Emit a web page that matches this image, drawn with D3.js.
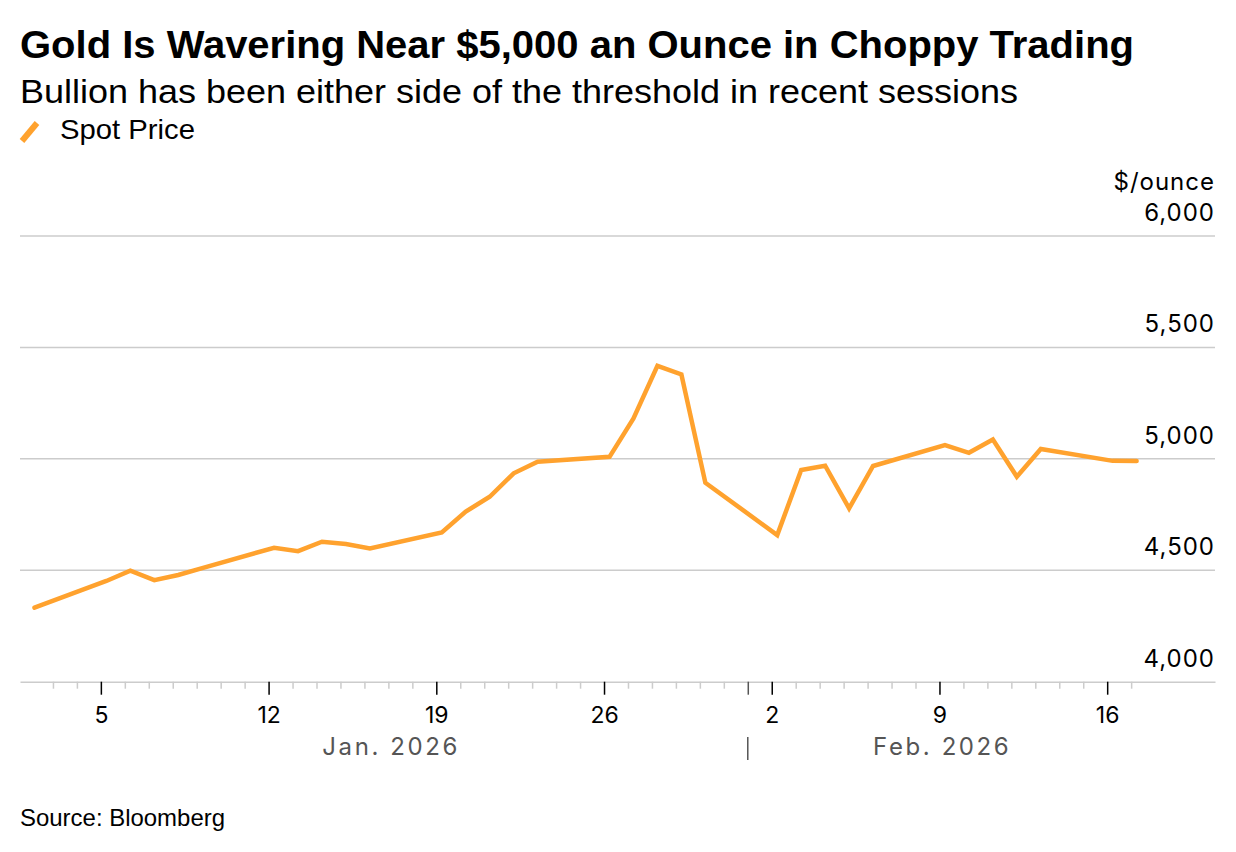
<!DOCTYPE html>
<html>
<head>
<meta charset="utf-8">
<script src="https://cdn.jsdelivr.net/npm/d3@7"></script>
<style>
  body { margin: 0; background: #fff; }
  text { font-family: "Liberation Sans", Arial, sans-serif; }
  .ax text { font-family: Inter, "Liberation Sans", sans-serif; }
</style>
</head>
<body>
<div id="chart"></div>
<script>
// trading days and spot price ($/ounce)
var days = ["2026-01-02","2026-01-05","2026-01-06","2026-01-07","2026-01-08","2026-01-09",
  "2026-01-12","2026-01-13","2026-01-14","2026-01-15","2026-01-16",
  "2026-01-19","2026-01-20","2026-01-21","2026-01-22","2026-01-23",
  "2026-01-26","2026-01-27","2026-01-28","2026-01-29","2026-01-30",
  "2026-02-02","2026-02-03","2026-02-04","2026-02-05","2026-02-06",
  "2026-02-09","2026-02-10","2026-02-11","2026-02-12","2026-02-13",
  "2026-02-16","2026-02-17"];
var spot = [4332, 4452, 4498, 4456, 4479, 4510,
  4601, 4586, 4628, 4618, 4598,
  4670, 4763, 4830, 4935, 4987,
  5009, 5181, 5417, 5379, 4893,
  4658, 4950, 4969, 4778, 4968,
  5062, 5027, 5087, 4920, 5044,
  4991, 4990];
var yTicks = [4000, 4500, 5000, 5500, 6000];
var months = [{label: "Jan. 2026"}, {label: "Feb. 2026"}];

var W = 1236, H = 852;
var margin = {left: 20, right: 1215, top: 236, bottom: 681.7};

var svg = d3.select("#chart").append("svg")
    .attr("width", W)
    .attr("height", H);

// titles
svg.append("text").attr("x", 20).attr("y", 58)
    .style("font-size", "39px").style("font-weight", "bold")
    .attr("textLength", 1114).attr("lengthAdjust", "spacingAndGlyphs")
    .text("Gold Is Wavering Near $5,000 an Ounce in Choppy Trading");
svg.append("text").attr("x", 20).attr("y", 103)
    .style("font-size", "32.5px")
    .attr("textLength", 998).attr("lengthAdjust", "spacingAndGlyphs")
    .text("Bullion has been either side of the threshold in recent sessions");

// legend
svg.append("line")
    .attr("x1", 22).attr("y1", 141).attr("x2", 37).attr("y2", 123)
    .attr("stroke", "#ffa22e").attr("stroke-width", 6);
svg.append("text").attr("x", 60).attr("y", 138.5)
    .style("font-size", "28px")
    .attr("textLength", 135).attr("lengthAdjust", "spacingAndGlyphs")
    .text("Spot Price");

var parse = d3.timeParse("%Y-%m-%d %H:%M");
var data = days.map(function(d, i) {
  return {date: parse(d + " 05:30"), value: spot[i]};
});

var x = d3.scaleTime()
    .domain([new Date(2026, 0, 1, 15), new Date(2026, 1, 20, 12)])
    .range([margin.left, margin.right]);

var y = d3.scaleLinear()
    .domain([4000, 6000])
    .range([margin.bottom, margin.top]);

// grid lines + right labels
var grid = svg.append("g").attr("class", "ax");
grid.selectAll("line.grid")
  .data(yTicks.slice(1))
  .enter().append("line")
    .attr("x1", margin.left).attr("x2", margin.right)
    .attr("y1", function(d) { return y(d); })
    .attr("y2", function(d) { return y(d); })
    .attr("stroke", "#cccccc").attr("stroke-width", 1.5);
grid.selectAll("text.ylab")
  .data(yTicks)
  .enter().append("text")
    .attr("x", margin.right).attr("y", function(d) { return y(d) - 15; })
    .attr("text-anchor", "end")
    .style("font-size", "24px")
    .style("letter-spacing", "1px")
    .attr("fill", "#000")
    .text(function(d) { return d3.format(",")(d); });
grid.append("text")
    .attr("x", margin.right).attr("y", y(6000) - 46)
    .attr("text-anchor", "end")
    .style("font-size", "24px")
    .style("letter-spacing", "1px")
    .text("$/ounce");

// x axis: daily minor ticks
var allDays = d3.timeDay.range(new Date(2026, 0, 3), new Date(2026, 1, 18));
var mondays = allDays.filter(function(d) { return d.getDay() == 1; });
var minor = allDays.filter(function(d) { return d.getDay() != 1 && d.getDate() != 1; });
var feb1 = new Date(2026, 1, 1);

svg.append("g")
    .attr("class", "ax")
    .attr("transform", "translate(0," + margin.bottom + ")")
    .call(d3.axisBottom(x).tickValues(minor).tickSize(7).tickSizeOuter(0).tickFormat(""))
    .call(function(g) {
      g.select(".domain").attr("stroke", "#cccccc").attr("stroke-width", 1.5);
      g.selectAll(".tick line").attr("stroke", "#cccccc").attr("stroke-width", 1.5);
    });

svg.append("g")
    .attr("class", "ax")
    .attr("transform", "translate(0," + margin.bottom + ")")
    .call(d3.axisBottom(x).tickValues(mondays).tickSize(13).tickPadding(12)
      .tickFormat(d3.timeFormat("%-d")))
    .call(function(g) {
      g.select(".domain").remove();
      g.selectAll(".tick line").attr("stroke", "#000").attr("stroke-width", 1.5);
      g.selectAll(".tick text").attr("fill", "#000").style("font-size", "23px");
    });

svg.append("g")
    .attr("class", "ax")
    .attr("transform", "translate(0," + margin.bottom + ")")
    .call(d3.axisBottom(x).tickValues([feb1]).tickSize(13).tickFormat(""))
    .call(function(g) {
      g.select(".domain").remove();
      g.selectAll(".tick line").attr("stroke", "#555").attr("stroke-width", 1.5);
    });

// month separator and labels
svg.append("line")
    .attr("x1", x(feb1)).attr("x2", x(feb1))
    .attr("y1", 737).attr("y2", 760)
    .attr("stroke", "#555").attr("stroke-width", 1.5);

var first = data[0].date, last = data[data.length - 1].date;
months[0].from = first; months[0].to = feb1;
months[1].from = feb1; months[1].to = last;
svg.append("g").attr("class", "ax")
  .selectAll("text")
  .data(months)
  .enter().append("text")
    .attr("x", function(d) { return (x(d.from) + x(d.to)) / 2; })
    .attr("y", 755)
    .attr("text-anchor", "middle")
    .attr("fill", "#555")
    .style("font-size", "24px")
    .style("letter-spacing", "2.6px")
    .text(function(d) { return d.label; });

// the line
svg.append("path")
    .datum(data)
    .attr("fill", "none")
    .attr("stroke", "#ffa22e")
    .attr("stroke-width", 4.5)
    .attr("stroke-linecap", "round")
    .attr("d", d3.line()
      .x(function(d) { return x(d.date); })
      .y(function(d) { return y(d.value); }));

// source
svg.append("text").attr("x", 20).attr("y", 826)
    .style("font-size", "24px")
    .attr("textLength", 205).attr("lengthAdjust", "spacingAndGlyphs")
    .text("Source: Bloomberg");
</script>
</body>
</html>
